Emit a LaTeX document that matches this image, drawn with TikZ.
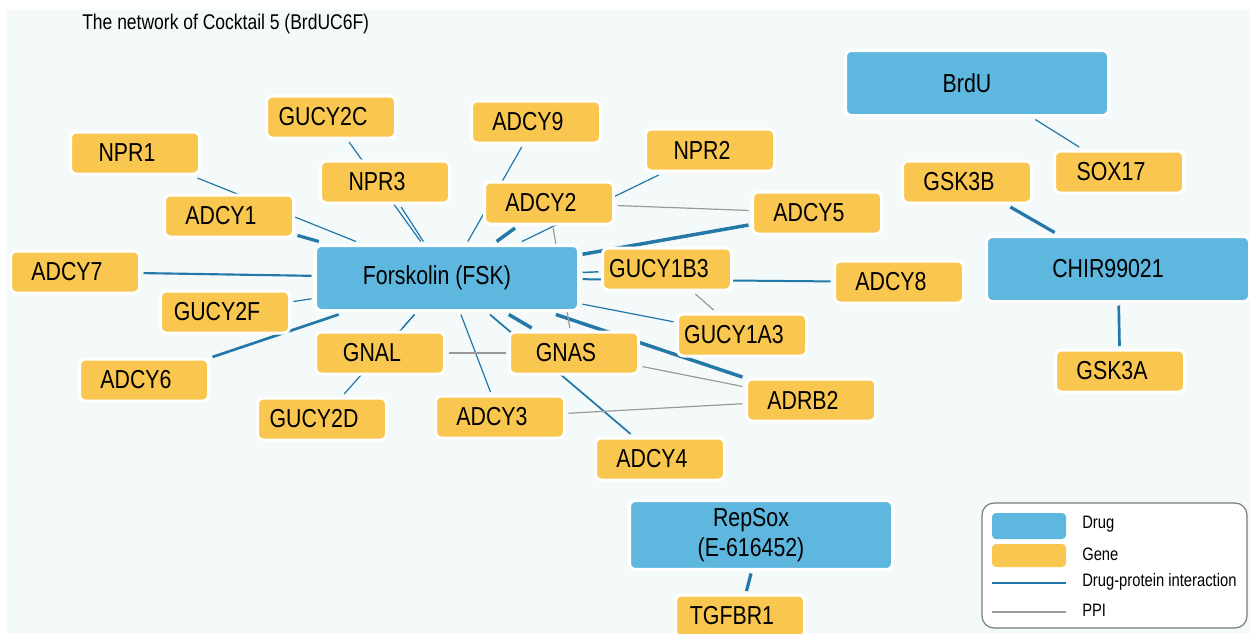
\documentclass[tikz,border=0pt]{standalone}
\usepackage{fontspec}
\setmainfont{Liberation Sans}[FakeStretch=0.82]
\definecolor{drugblue}{HTML}{5DB7DE}
\definecolor{genegold}{HTML}{F9C74F}
\definecolor{linkblue}{HTML}{2378A8}
\definecolor{ppigrey}{HTML}{9A9A9A}
\definecolor{canvas}{HTML}{F4F9FA}
\definecolor{legendframe}{HTML}{7A7A7A}
\pgfdeclarelayer{bglayer}
\pgfdeclarelayer{edgelayer}
\pgfsetlayers{bglayer,edgelayer,main}
\tikzset{
  drug/.style={draw=white, line width=2.25pt, fill=drugblue, rounded corners=4.5pt,
    minimum width=197.25pt, minimum height=48.75pt, outer sep=3pt, text=black,
    font=\fontsize{19.5}{22.5}\selectfont, execute at end node={\hskip15pt}},
  gene/.style={draw=white, line width=2.25pt, fill=genegold, rounded corners=4.5pt,
    minimum width=96.75pt, minimum height=31.5pt, outer sep=3pt, text=black,
    font=\fontsize{19.5}{22.5}\selectfont, execute at end node={\hskip12pt}},
  dp/.style={draw=linkblue, line width=#1},
  dp/.default=0.9pt,
  ppi/.style={draw=ppigrey, line width=0.9pt},
  legendtext/.style={anchor=west, inner sep=0pt, font=\fontsize{13.5}{16}\selectfont}
}
\begin{document}
\begin{tikzpicture}[x=0.75pt,y=0.75pt,yscale=-1,xscale=1]
\useasboundingbox (0,0) rectangle (1250,633);
\begin{pgfonlayer}{bglayer}
\fill[canvas] (7,10) rectangle (1250,633);
\end{pgfonlayer}

% Title
\node (title) [anchor=west, inner sep=0pt, font=\fontsize{16}{19}\selectfont] at (82,24) {The network of Cocktail 5 (BrdUC6F)};

% Drug nodes
\node (brdu) [drug] at (977,83) {BrdU};
\node (fsk) [drug] at (447,278) {Forskolin (FSK)};
\node (chir) [drug] at (1118,269) {CHIR99021};
\node (repsox) [drug] at (761,535) {\begin{tabular}{@{}c@{}}RepSox\\(E-616452)\end{tabular}};

% Gene nodes
\node (npr1) [gene] at (135,153) {NPR1};
\node (gucy2c) [gene] at (331,117) {GUCY2C};
\node (npr3) [gene] at (385,182) {NPR3};
\node (adcy1) [gene] at (229,216) {ADCY1};
\node (adcy9) [gene] at (536,122) {ADCY9};
\node (npr2) [gene] at (710,150) {NPR2};
\node (adcy2) [gene] at (549,203) {ADCY2};
\node (adcy5) [gene] at (817,213) {ADCY5};
\node (gucy1b3) [gene] at (667,269) {GUCY1B3};
\node (adcy8) [gene] at (899,282) {ADCY8};
\node (gucy1a3) [gene] at (742,335) {GUCY1A3};
\node (adrb2) [gene] at (811,400) {ADRB2};
\node (gnal) [gene] at (380,353) {GNAL};
\node (gnas) [gene] at (574,353) {GNAS};
\node (gucy2d) [gene] at (322,419) {GUCY2D};
\node (adcy3) [gene] at (500,417) {ADCY3};
\node (adcy4) [gene] at (660,459) {ADCY4};
\node (adcy7) [gene] at (75,272) {ADCY7};
\node (gucy2f) [gene] at (225,312) {GUCY2F};
\node (adcy6) [gene] at (144,380) {ADCY6};
\node (sox17) [gene] at (1119,172) {SOX17};
\node (gsk3b) [gene] at (967,182) {GSK3B};
\node (gsk3a) [gene] at (1120,371) {GSK3A};
\node (tgfbr1) [gene] at (740,616) {TGFBR1};

\begin{pgfonlayer}{edgelayer}
% Drug-protein interactions
\draw[dp] (fsk) -- (npr1);
\draw[dp=2.4pt] (fsk) -- (adcy1);
\draw[dp] (fsk) -- (gucy2c);
\draw[dp] (fsk) -- (npr3);
\draw[dp] (fsk) -- (adcy9);
\draw[dp=2.6pt] (fsk) -- (adcy2);
\draw[dp] (fsk) -- (npr2);
\draw[dp=2.6pt] (fsk) -- (adcy5);
\draw[dp=1.1pt] (fsk) -- (gucy1b3);
\draw[dp=1.5pt] (fsk) -- (adcy8);
\draw[dp] (fsk) -- (gucy1a3);
\draw[dp=2.6pt] (fsk) -- (adrb2);
\draw[dp=2.6pt] (fsk) -- (gnas);
\draw[dp=1.3pt] (fsk) -- (adcy4);
\draw[dp] (fsk) -- (adcy3);
\draw[dp] (fsk) -- (gnal);
\draw[dp] (fsk) -- (gucy2d);
\draw[dp=2pt] (fsk) -- (adcy6);
\draw[dp] (fsk) -- (gucy2f);
\draw[dp=1.6pt] (fsk) -- (adcy7);
\draw[dp=2.4pt] (chir) -- (gsk3b);
\draw[dp=2pt] (chir) -- (gsk3a);
\draw[dp] (brdu) -- (sox17);
\draw[dp=2.4pt] (repsox) -- (tgfbr1);
% PPI
\draw[ppi] (adcy2) -- (adcy5);
\draw[ppi] (adcy2) -- (gnas);
\draw[ppi] (gucy1b3) -- (gucy1a3);
\draw[ppi] (gnal) -- (gnas);
\draw[ppi] (gnas) -- (adrb2);
\draw[ppi] (adcy3) -- (adrb2);
\end{pgfonlayer}

% Legend
\draw[legendframe, fill=white, line width=0.9pt, rounded corners=9pt] (982,503) rectangle (1247,628);
\fill[drugblue, rounded corners=3pt] (992,513) rectangle (1066,539);
\fill[genegold, rounded corners=3pt] (992,544) rectangle (1066,567);
\draw[linkblue, line width=2.2pt] (992,583) -- (1066,583);
\draw[ppigrey, line width=1.1pt] (992,612) -- (1066,612);
\node (legdrug) [legendtext] at (1082,524) {Drug};
\node (leggene) [legendtext] at (1082,554) {Gene};
\node (legdp) [legendtext] at (1082,582) {Drug-protein interaction};
\node (legppi) [legendtext] at (1082,610) {PPI};

\end{tikzpicture}
\end{document}
